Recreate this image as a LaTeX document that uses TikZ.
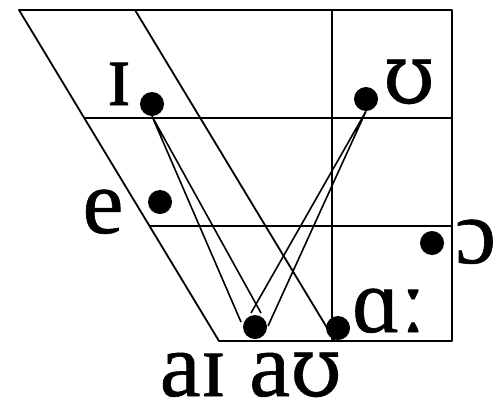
\documentclass[tikz,border=0pt]{standalone}
\usepackage{fontspec}
\setmainfont{Liberation Serif}
\newfontfamily\lblfont[FakeBold=0.7]{Liberation Serif}
\newfontfamily\ipaalt[FakeBold=0.3]{DejaVu Serif}
\usetikzlibrary{calc}
\tikzset{
  chart/.style={line width=1.8pt, line cap=round, line join=round},
  dot/.style={circle, fill=black, inner sep=0pt, minimum size=24pt},
  wedge/.style={line width=1.6pt},
  lbl/.style={inner sep=0pt, font=\lblfont\fontsize{92}{92}\selectfont},
}
\begin{document}
\begin{tikzpicture}[x=1pt,y=-1pt]
\useasboundingbox (0,0) rectangle (502,399);
\clip (0,0) rectangle (502,399);
% chart frame
\draw[chart] (219,341) -- (19,10) -- (452,10) -- (452,341) -- cycle;
\draw[chart] (135,10) -- (335,341);
\draw[chart] (332,10) -- (332,341);
\draw[chart] (84.3,118) -- (452,118);
\draw[chart] (149.5,226) -- (452,226);
% dots
\node[dot] (i)  at (152,104) {};
\node[dot] (u)  at (366,99)  {};
\node[dot] (e)  at (160,202) {};
\node[dot] (oo) at (432,243) {};
\node[dot] (ai) at (255,327) {};
\node[dot] (aa) at (338,328) {};
% wedges
\draw[wedge] ($(ai)+(-14,-5)$) -- (i.south) -- ($(ai)+(6,-14)$);
\draw[wedge] ($(ai)+(-4,-14)$) -- (u.south) -- ($(ai)+(13,-1)$);
% labels
\node[lbl, anchor=base] (li) at (119,105) {ɪ};
\node[lbl, anchor=base] (lu) at (409,103) {\ipaalt\fontsize{84}{84}\selectfont ʊ};
\node[lbl, anchor=base] (le) at (103,233) {e};
\node[lbl, anchor=base] (lai) at (251,396) {aɪ a{\ipaalt\fontsize{84}{84}\selectfont ʊ}};
\node[lbl, anchor=base west] (laa) at (352,332) {ɑː};
\node[lbl, anchor=base west] (loo) at (455,263) {ɔː};
\end{tikzpicture}
\end{document}
